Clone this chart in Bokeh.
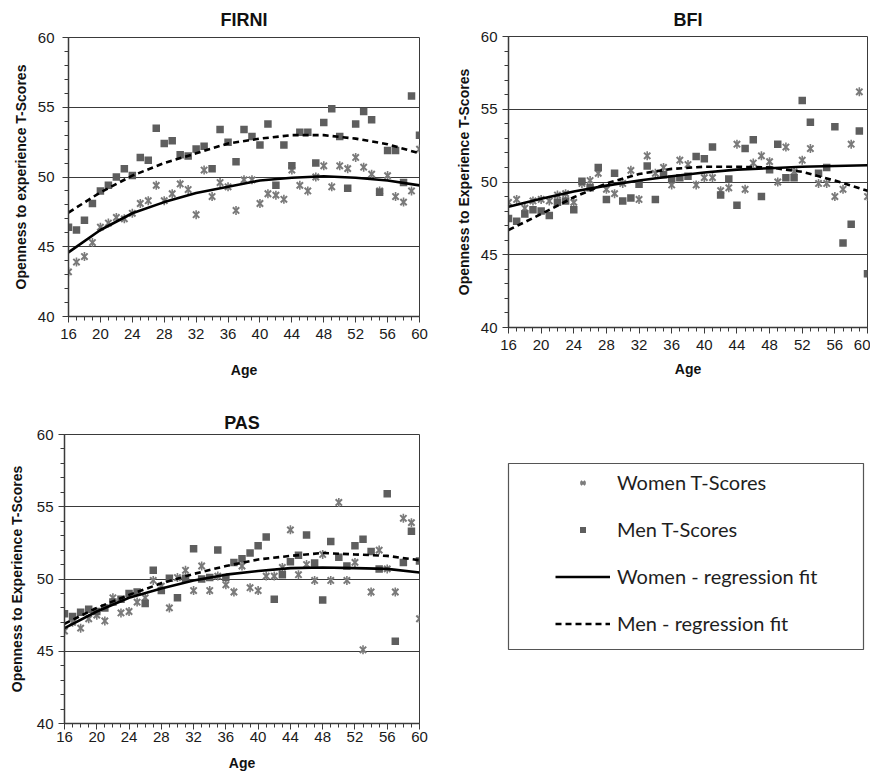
import math
from bokeh.plotting import figure
from bokeh.models import Range1d, FixedTicker, Legend, LegendItem
from bokeh.layouts import column, row
from bokeh.embed import file_html
from bokeh.resources import INLINE

# ---------------- data ----------------
ages = list(range(16, 61))
fit_ages = [16, 20, 24, 28, 32, 36, 40, 44, 48, 52, 56, 60]

x_ticks = [16, 20, 24, 28, 32, 36, 40, 44, 48, 52, 56, 60]
x_minor = list(range(16, 61))
y_ticks = [40, 45, 50, 55, 60]
y_minor = list(range(40, 61))

firni_women = [43.2, 43.9, 44.3, 45.3, 46.4, 46.7, 47.1, 47.0, 47.4, 48.1,
               48.3, 49.4, 48.3, 48.8, 49.5, 49.1, 47.3, 50.5, 48.6, 49.6,
               49.3, 47.6, 49.8, 49.8, 48.1, 48.8, 48.7, 48.4, 50.5, 49.4,
               49.0, 50.0, 50.8, 49.3, 50.8, 50.6, 51.4, 50.7, 50.2, 49.0,
               50.1, 48.6, 48.2, 49.0, 52.0]
firni_men = [46.4, 46.2, 46.9, 48.1, 49.0, 49.4, 50.0, 50.6, 50.1, 51.4,
             51.2, 53.5, 52.4, 52.6, 51.6, 51.5, 52.0, 52.2, 50.6, 53.4,
             52.5, 51.1, 53.4, 52.9, 52.3, 53.8, 49.4, 52.3, 50.8, 53.2,
             53.2, 51.0, 53.9, 54.9, 52.9, 49.2, 53.8, 54.7, 54.1, 48.9,
             51.9, 51.9, 49.6, 55.8, 53.0]
firni_women_fit = [44.6, 46.2, 47.4, 48.2, 48.85, 49.3, 49.75, 49.95, 50.05, 49.95, 49.75, 49.4]
firni_men_fit = [47.45, 48.9, 50.1, 51.0, 51.7, 52.4, 52.75, 53.0, 53.0, 52.75, 52.35, 51.7]

bfi_women = [48.6, 48.8, 48.2, 48.7, 48.8, 48.7, 49.1, 49.2, 48.6, 49.9,
             50.1, 50.6, 49.5, 49.2, 49.9, 50.8, 48.8, 51.8, 50.6, 51.0,
             49.8, 51.5, 51.2, 49.8, 50.3, 50.3, 49.4, 49.6, 52.6, 49.5,
             51.3, 51.8, 51.4, 50.0, 52.4, 50.7, 51.5, 52.3, 49.9, 49.9,
             49.0, 49.5, 52.6, 56.2, 49.0]
bfi_men = [47.5, 47.3, 47.8, 48.1, 48.0, 47.7, 48.6, 48.7, 48.1, 50.05,
           49.6, 51.0, 48.8, 50.6, 48.7, 48.9, 49.85, 51.1, 48.8, 50.5,
           50.2, 50.3, 50.4, 51.75, 51.6, 52.4, 49.1, 50.2, 48.4, 52.3,
           52.9, 49.0, 50.85, 52.6, 50.3, 50.3, 55.6, 54.1, 50.6, 51.0,
           53.8, 45.8, 47.1, 53.5, 43.7]
bfi_women_fit = [48.3, 48.85, 49.35, 49.75, 50.1, 50.4, 50.65, 50.85, 50.95, 51.05, 51.1, 51.15]
bfi_men_fit = [46.7, 47.8, 48.95, 49.9, 50.55, 50.9, 51.05, 51.05, 51.0, 50.7, 50.1, 49.4]

pas_women = [46.4, 47.0, 46.6, 47.25, 47.5, 47.1, 48.7, 47.65, 47.75, 48.4,
             48.7, 49.9, 49.5, 48.0, 50.1, 50.6, 49.2, 50.9, 49.2, 50.2,
             49.6, 49.1, 50.9, 49.4, 49.2, 50.2, 50.2, 50.8, 53.4, 50.3,
             51.0, 49.9, 51.7, 49.9, 55.3, 49.9, 51.15, 45.1, 49.1, 52.0,
             50.7, 49.1, 54.2, 53.9, 47.25]
pas_men = [47.6, 47.4, 47.7, 47.9, 47.75, 48.0, 48.4, 48.6, 49.0, 49.1,
           48.3, 50.6, 49.2, 50.05, 48.7, 50.05, 52.1, 50.0, 50.1, 52.0,
           50.1, 51.15, 51.4, 51.8, 52.3, 52.9, 48.6, 50.3, 51.2, 51.65,
           53.05, 51.1, 48.55, 52.6, 51.5, 50.9, 52.3, 52.75, 51.9, 50.7,
           55.9, 45.7, 51.15, 53.3, 51.25]
pas_women_fit = [46.6, 47.75, 48.7, 49.35, 49.9, 50.3, 50.55, 50.75, 50.8, 50.75, 50.7, 50.45]
pas_men_fit = [46.9, 48.0, 48.9, 49.7, 50.35, 50.9, 51.35, 51.6, 51.8, 51.7, 51.6, 51.3]

legend_labels = ["Women T-Scores", "Men T-Scores", "Women - regression fit", "Men - regression fit"]

# ---------------- styles ----------------
FONT = "Liberation Sans"
WOMEN_COLOR = "#7a7a7a"
MEN_COLOR = "#5e5e5e"
LINE_COLOR = "#3a3a3a"


def women_markers(p, x, y, size=9):
    r1 = p.scatter(x, y, marker="x", size=size, line_color=WOMEN_COLOR, line_width=2)
    r2 = p.scatter(x, y, marker="dash", angle=math.pi / 2, size=size,
                   line_color=WOMEN_COLOR, line_width=1.6)
    return [r1, r2]


def men_markers(p, x, y):
    return p.scatter(x, y, marker="square", size=7.5, fill_color=MEN_COLOR, line_color=None)


def fits(p, x, yw, ym):
    rw = p.line(x, yw, line_color="black", line_width=2.6)
    rm = p.line(x, ym, line_color="black", line_width=2.6, line_dash="6 4")
    return rw, rm


def panel(title, ylabel, width, height, mbl, mbr, mbt, mbb,
          title_standoff, ylab_standoff, ytick_standoff, xtick_standoff, xlab_standoff):
    p = figure(width=width, height=height,
               x_range=Range1d(x_ticks[0], x_ticks[-1]),
               y_range=Range1d(y_ticks[0], y_ticks[-1]),
               output_backend="svg", toolbar_location=None,
               min_border_left=mbl, min_border_right=mbr,
               min_border_top=mbt, min_border_bottom=mbb,
               background_fill_color="white", border_fill_color="white",
               outline_line_color=LINE_COLOR, outline_line_width=1)
    p.title.text = title
    p.title.align = "center"
    p.title.text_font = FONT
    p.title.text_font_size = "18px"
    p.title.text_font_style = "bold"
    p.title.text_color = "#111111"
    p.title.standoff = title_standoff

    xa = p.xaxis[0]
    xa.ticker = FixedTicker(ticks=x_ticks, minor_ticks=x_minor)
    xa.axis_label = "Age"
    ya = p.yaxis[0]
    ya.ticker = FixedTicker(ticks=y_ticks, minor_ticks=y_minor)
    ya.axis_label = ylabel
    for ax in (xa, ya):
        ax.axis_line_color = LINE_COLOR
        ax.axis_line_width = 1.5
        ax.major_tick_line_color = LINE_COLOR
        ax.minor_tick_line_color = LINE_COLOR
        ax.major_tick_in = 0
        ax.major_tick_out = 6
        ax.minor_tick_in = 0
        ax.minor_tick_out = 4
        ax.major_label_text_font = FONT
        ax.major_label_text_font_size = "15px"
        ax.major_label_text_color = "#1a1a1a"
        ax.axis_label_text_font = FONT
        ax.axis_label_text_font_size = "14px"
        ax.axis_label_text_font_style = "bold"
        ax.axis_label_text_color = "#111111"
    ya.axis_label_standoff = ylab_standoff
    ya.major_label_standoff = ytick_standoff
    xa.major_label_standoff = xtick_standoff
    xa.axis_label_standoff = xlab_standoff

    p.xgrid.visible = False
    p.ygrid.ticker = FixedTicker(ticks=y_ticks)
    p.ygrid.grid_line_color = LINE_COLOR
    p.ygrid.grid_line_width = 1
    return p


# FIRNI
f1 = panel("FIRNI", "Openness to experience T-Scores", 445, 390, 68, 26, 37, 74,
           15, 6, 8, 6, 20)
women_markers(f1, ages, firni_women)
men_markers(f1, ages, firni_men)
fits(f1, fit_ages, firni_women_fit, firni_men_fit)

# BFI
f2 = panel("BFI", "Openness to Experience T-Scores", 425, 390, 63, 3, 36, 63,
           14, 6, 5, 6, 8)
women_markers(f2, ages, bfi_women)
men_markers(f2, ages, bfi_men)
fits(f2, fit_ages, bfi_women_fit, bfi_men_fit)

# PAS
f3 = panel("PAS", "Openness to Experience T-Scores", 445, 383, 64, 26, 44, 48,
           4, 9, 5, 2, 10)
women_markers(f3, ages, pas_women)
men_markers(f3, ages, pas_men)
fits(f3, fit_ages, pas_women_fit, pas_men_fit)

# Legend panel (the framed box); legend-only renderers lie outside its ranges
f4 = figure(width=425, height=383, x_range=Range1d(0, 1), y_range=Range1d(0, 1),
            output_backend="svg", toolbar_location=None,
            min_border_left=63, min_border_right=7, min_border_top=73, min_border_bottom=124,
            outline_line_color="#555555", outline_line_width=1.2)
f4.axis.visible = False
f4.grid.visible = False
lw = women_markers(f4, ages, firni_women, size=7)
lm = men_markers(f4, ages, firni_men)
lfw, lfm = fits(f4, fit_ages, firni_women_fit, firni_men_fit)
legend = Legend(items=[LegendItem(label=legend_labels[0], renderers=lw),
                       LegendItem(label=legend_labels[1], renderers=[lm]),
                       LegendItem(label=legend_labels[2], renderers=[lfw]),
                       LegendItem(label=legend_labels[3], renderers=[lfm])],
                location=(47, 14), padding=0, margin=0, spacing=23,
                glyph_width=55, glyph_height=15, label_height=23, label_standoff=7,
                border_line_color=None, background_fill_alpha=0,
                label_text_font="Lato", label_text_font_size="20px",
                label_text_color="#1e1e1e")
f4.add_layout(legend)

layout = column(row(column(f1), column(f2)), row(column(f3), column(f4)))
open("out.html", "w").write(file_html(layout, INLINE))
